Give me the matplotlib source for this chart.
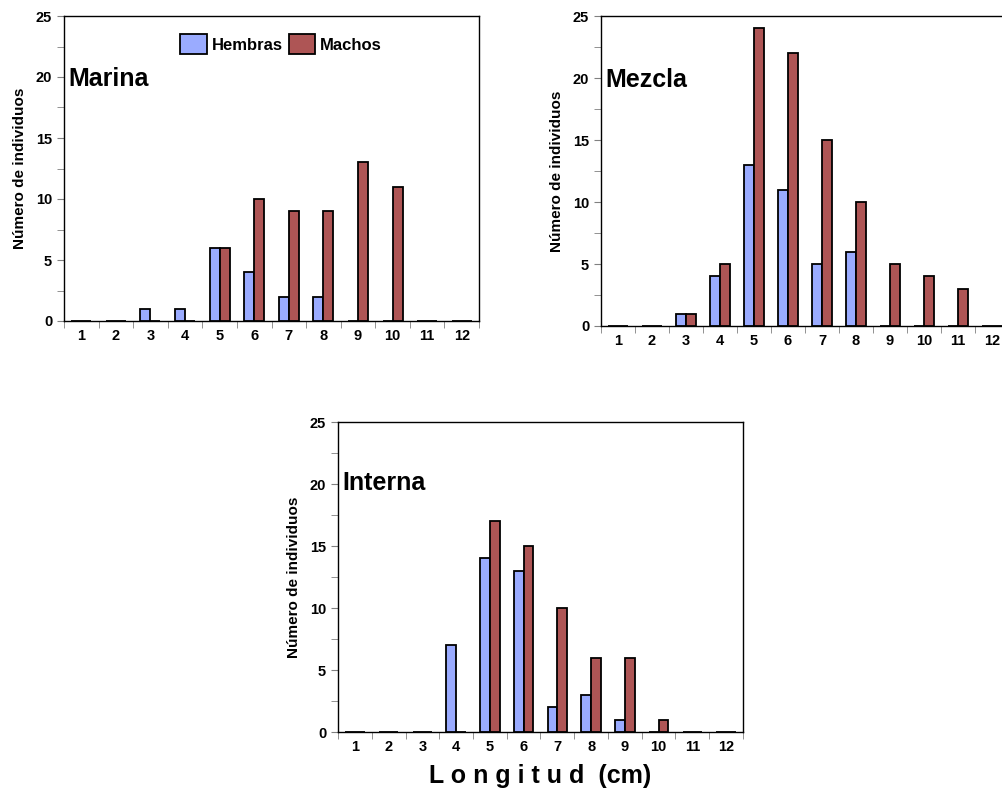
import matplotlib
matplotlib.use("Agg")
import matplotlib.pyplot as plt
import numpy as np

plt.rcParams['font.family'] = ['Liberation Sans', 'DejaVu Sans']
plt.rcParams['font.weight'] = 'bold'

# longitud (cm)
clases = ['1', '2', '3', '4', '5', '6', '7', '8', '9', '10', '11', '12']

marina_hembras = [0, 0, 1, 1, 6, 4, 2, 2, 0, 0, 0, 0]
marina_machos = [0, 0, 0, 0, 6, 10, 9, 9, 13, 11, 0, 0]

mezcla_hembras = [0, 0, 1, 4, 13, 11, 5, 6, 0, 0, 0, 0]
mezcla_machos = [0, 0, 1, 5, 24, 22, 15, 10, 5, 4, 3, 0]

interna_hembras = [0, 0, 0, 7, 14, 13, 2, 3, 1, 0, 0, 0]
interna_machos = [0, 0, 0, 0, 17, 15, 10, 6, 6, 1, 0, 0]

azul = '#9AABFF'
rojo = '#AE5555'

fig = plt.figure(figsize=(10.02, 7.88), dpi=100)
W, H = 1002, 788


def panel(px, hembras, machos, nombre, ty):
    l, t, r, b = px
    ax = fig.add_axes([l / W, (H - b) / H, (r - l) / W, (b - t) / H])
    x = np.arange(len(clases))
    w = 0.29
    ax.bar(x - w / 2, hembras, w, color=azul, edgecolor='black', linewidth=1.3,
           label='Hembras', zorder=3, clip_on=False)
    ax.bar(x + w / 2, machos, w, color=rojo, edgecolor='black', linewidth=1.3,
           label='Machos', zorder=3, clip_on=False)
    ax.set_xlim(-0.5, len(clases) - 0.5)
    ax.set_ylim(0, 25)
    ax.set_xticks(x)
    ax.set_xticklabels(clases)
    ax.set_xticks(np.arange(-0.5, len(clases)), minor=True)
    ax.tick_params(axis='x', which='major', length=0, pad=6, labelsize=10.5)
    ax.tick_params(axis='x', which='minor', length=5, direction='out', color='#808080')
    ax.set_yticks([0, 5, 10, 15, 20, 25])
    ax.set_yticks(np.arange(2.5, 25, 5), minor=True)
    ax.tick_params(axis='y', which='both', length=5, direction='out', color='#808080', labelsize=10.5)
    for s in ax.spines.values():
        s.set_linewidth(1)
    ax.set_ylabel('Número de individuos', fontsize=11, fontweight='bold', labelpad=6)
    ax.text(-0.36, ty, nombre, fontsize=18, fontweight='bold', va='center', ha='left')
    return ax


ax1 = panel((64, 16, 479, 321), marina_hembras, marina_machos, 'Marina', 19.8)
ax1.legend(loc='center', bbox_to_anchor=(0.523, 0.908), ncol=2, frameon=False,
           handlelength=1.6, handleheight=1.45, handletextpad=0.3,
           columnspacing=0.35, borderpad=0, prop={'weight': 'bold', 'size': 12})

ax2 = panel((601, 16, 1009, 326), mezcla_hembras, mezcla_machos, 'Mezcla', 19.8)

ax3 = panel((338, 422, 743, 732), interna_hembras, interna_machos, 'Interna', 20.1)
ax3.set_xlabel('L o n g i t u d  (cm)', fontsize=18, fontweight='bold', labelpad=7)

fig.savefig('out.png', dpi=100)
